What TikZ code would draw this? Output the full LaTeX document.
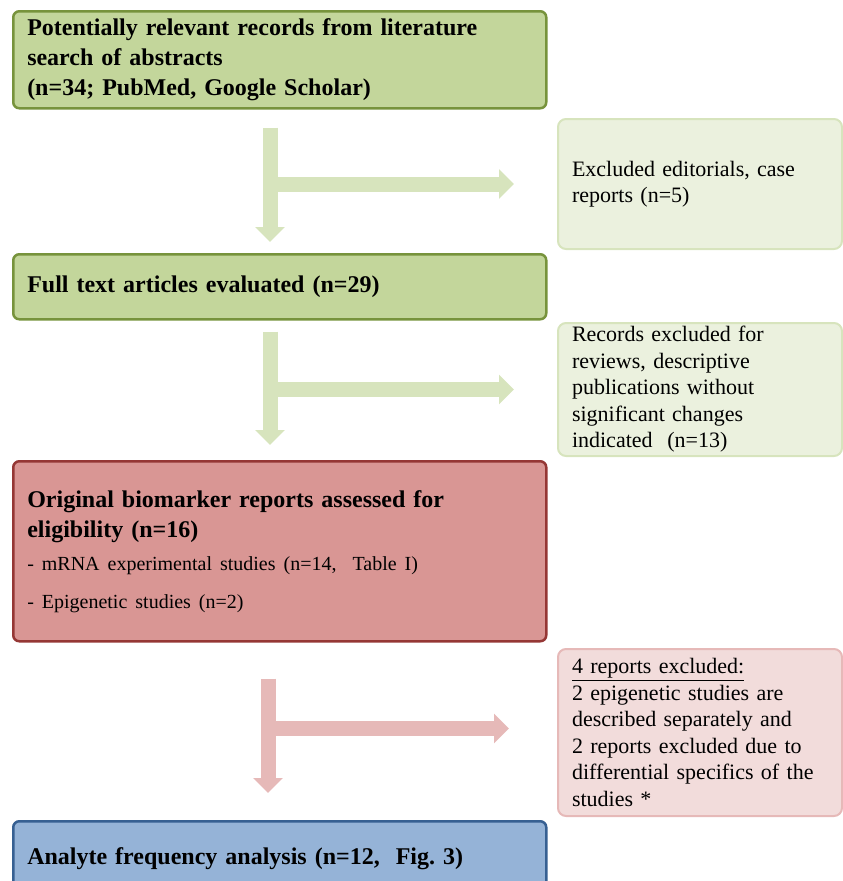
\documentclass[tikz,border=0pt]{standalone}
\usepackage{fontspec}
\setmainfont{Liberation Serif}
\usepackage{xcolor}
\usetikzlibrary{arrows.meta}

\definecolor{grnfill}{HTML}{C3D69B}
\definecolor{grnline}{HTML}{77933C}
\definecolor{ltgrnfill}{HTML}{EBF1DE}
\definecolor{ltgrnline}{HTML}{D7E4BD}
\definecolor{redfill}{HTML}{D99694}
\definecolor{redline}{HTML}{953735}
\definecolor{ltredfill}{HTML}{F2DCDB}
\definecolor{ltredline}{HTML}{E6B9B8}
\definecolor{bluefill}{HTML}{95B3D7}
\definecolor{blueline}{HTML}{376092}

\newcommand\subtext{\fontsize{20}{25}\selectfont\mdseries}

\begin{document}
\begin{tikzpicture}[x=1pt,y=-1pt,
  every node/.style={anchor=north west,inner ysep=0pt,align=left},
  mainbox/.style={draw,line width=2.5pt,rounded corners=6pt,inner xsep=14pt,text width=505pt,font=\fontsize{24}{30}\selectfont\bfseries},
  sidebox/.style={draw,line width=2pt,rounded corners=8pt,inner xsep=14pt,text width=256pt,font=\fontsize{22}{26.5}\selectfont},
  fatarrow/.style={line width=15pt,-{Triangle[width=29pt,length=15pt]}}]
  \useasboundingbox (0,0) rectangle (843,881);
  \clip (0,0) rectangle (843,881);
  % main column
  \node[mainbox,fill=grnfill,draw=grnline,minimum height=97pt] (search) at (12,10)
    {Potentially relevant records from literature\\search of abstracts\\(n=34; PubMed, Google Scholar)};
  \node[mainbox,fill=grnfill,draw=grnline,minimum height=65pt] (fulltext) at (12,253)
    {Full text articles evaluated (n=29)};
  \node[mainbox,fill=redfill,draw=redline,minimum height=180pt] (orig) at (12,460)
    {Original biomarker reports assessed for\\eligibility (n=16)\\[3pt]
     {\subtext - mRNA experimental studies (n=14,~~Table~I)}\\[8pt]
     {\subtext - Epigenetic studies (n=2)}};
  \node[mainbox,fill=bluefill,draw=blueline,minimum height=75pt] (freq) at (12,820)
    {Analyte frequency analysis (n=12,~~Fig.~3)};
  % excluded records
  \node[sidebox,fill=ltgrnfill,draw=ltgrnline,minimum height=130pt] (excl1) at (557,118)
    {Excluded editorials, case\\reports (n=5)};
  \node[sidebox,fill=ltgrnfill,draw=ltgrnline,minimum height=133pt] (excl2) at (557,322)
    {Records excluded for\\reviews, descriptive\\publications without\\significant changes\\indicated~~(n=13)};
  \node[sidebox,fill=ltredfill,draw=ltredline,minimum height=167pt] (excl3) at (557,648)
    {\underline{4 reports excluded:}\\2 epigenetic studies are\\described separately and\\2 reports excluded due to\\differential specifics of the\\studies *};
  % arrows
  \coordinate (v1) at ([shift={(258,18)}]search.south west);
  \coordinate (v2) at ([shift={(258,11)}]fulltext.south west);
  \coordinate (v3) at ([shift={(256,36)}]orig.south west);
  \draw[fatarrow,ltgrnline] (v1) -- ([shift={(258,-11)}]fulltext.north west);
  \draw[fatarrow,ltgrnline] (excl1.west -| v1) -- ([xshift=-43pt]excl1.west);
  \draw[fatarrow,ltgrnline] (v2) -- ([shift={(258,-15)}]orig.north west);
  \draw[fatarrow,ltgrnline] (excl2.west -| v2) -- ([xshift=-43pt]excl2.west);
  \draw[fatarrow,ltredline] (v3) -- ([shift={(256,-27)}]freq.north west);
  \draw[fatarrow,ltredline] ([shift={(0,-4)}]excl3.west -| v3) -- ([shift={(-48,-4)}]excl3.west);
\end{tikzpicture}
\end{document}
